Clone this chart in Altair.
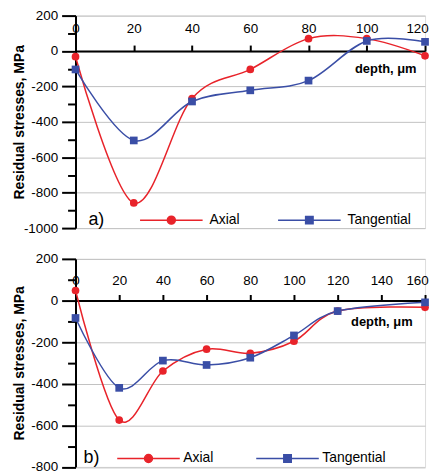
import altair as alt
import pandas as pd

# ---------------- data ----------------
series = ["Axial", "Tangential"]
colors = ["#e8232a", "#3a4ea6"]

depth_a = [0, 20, 40, 60, 80, 100, 120]
axial_a = [-32, -858, -268, -104, 70, 70, -27]
tang_a = [-104, -505, -285, -222, -167, 57, 52]

depth_b = [0, 20, 40, 60, 80, 100, 120, 160]
axial_b = [48, -575, -339, -234, -254, -196, -51, -33]
tang_b = [-84, -420, -289, -310, -275, -168, -51, -9]

x_ticks_a = [0, 20, 40, 60, 80, 100, 120]
x_ticks_b = [0, 20, 40, 60, 80, 100, 120, 140, 160]
y_ticks_a = list(range(-1000, 201, 100))
y_ticks_b = list(range(-800, 201, 100))

FONT = "Liberation Sans"

CIRCLE_SYM = "M-6.3,0L6.3,0M-0.8,0A0.8,0.8,0,1,1,0.8,0A0.8,0.8,0,1,1,-0.8,0Z"
SQUARE_SYM = "M-6.3,0L6.3,0M-0.75,-0.75L0.75,-0.75L0.75,0.75L-0.75,0.75Z"


def long_df(depth, axial, tang):
    rows = []
    for d, v in zip(depth, axial):
        rows.append({"depth": d, "stress": v, "series": series[0]})
    for d, v in zip(depth, tang):
        rows.append({"depth": d, "stress": v, "series": series[1]})
    return pd.DataFrame(rows)


def panel(df, xmax, ymin, xticks, yticks, w, h, tag,
          legx, legy, tpad, loff, cpad, labelpad, ttl_dx, ttl_dy):
    zero_px = h * 200.0 / (200.0 - ymin)
    xscale = alt.Scale(domain=[0, xmax], nice=False, zero=False)
    yscale = alt.Scale(domain=[ymin, 200], nice=False, zero=False)
    xaxis = alt.Axis(
        orient="top", offset=-zero_px, values=xticks, grid=False,
        minExtent=0, maxExtent=0,
        tickSize=6, tickWidth=2, tickColor="black",
        domainColor="black", domainWidth=2,
        labelFontSize=13.5, labelFont=FONT, labelColor="black",
        labelPadding=labelpad, labelAngle=0, labelFlush=False,
        labelOverlap=False,
        labelOffset={"expr": "datum.value === %d ? -8 : 0" % xmax},
        title="depth, \u03bcm", titleFont=FONT, titleFontSize=13,
        titleFontWeight="bold", titleColor="black",
        titleX=w - ttl_dx, titleY=ttl_dy, titleAlign="right",
        titleBaseline="alphabetic", titleAngle=0,
    )
    yaxis = alt.Axis(
        orient="left", values=yticks,
        labelExpr="datum.value % 200 === 0 ? '' + datum.value : ''",
        tickSize={"expr": "datum.value % 200 === 0 ? 14 : 8"},
        tickWidth=2, tickColor="black",
        domainColor="black", domainWidth=2,
        labelFontSize=13.5, labelFont=FONT, labelColor="black",
        labelPadding=4,
        grid=True, gridColor="#c2c2c2", gridWidth=1,
        gridOpacity={"expr": "datum.value % 200 === 0 ? 1 : 0"},
        title="Residual stresses, MPa", titleFont=FONT, titleFontSize=14,
        titleFontWeight="bold", titleColor="black",
        titleX=-56, titleY=h / 2, titleAngle=-90, titleAlign="center",
        titleBaseline="middle",
    )
    legend = alt.Legend(
        orient="none", legendX=legx, legendY=legy, direction="horizontal",
        title=tag, titleOrient="left", titleFontSize=18, titleFont=FONT,
        titleFontWeight="normal", titleColor="black", titlePadding=tpad,
        titleAnchor="middle", titleBaseline="middle",
        labelFontSize=14, labelFont=FONT, labelColor="black",
        labelOffset=loff, columnPadding=cpad,
        symbolSize=100, symbolStrokeWidth=1.5, symbolOpacity=1,
    )
    cscale = alt.Scale(domain=series, range=colors)
    sscale = alt.Scale(domain=series, range=[CIRCLE_SYM, SQUARE_SYM])

    base = alt.Chart(df)
    X = alt.X("depth:Q", scale=xscale, axis=xaxis)
    Y = alt.Y("stress:Q", scale=yscale, axis=yaxis)
    layers = []
    for s, c in zip(series, colors):
        layers.append(
            base.transform_filter(alt.datum.series == s)
            .mark_line(interpolate="cardinal", strokeWidth=1.5, color=c)
            .encode(x=X, y=Y)
        )
    for s, c, shp in zip(series, colors, ["circle", "square"]):
        layers.append(
            base.transform_filter(alt.datum.series == s)
            .mark_point(filled=True, size=60, opacity=1, color=c, shape=shp)
            .encode(x=X, y=Y)
        )
    # legend-only layer (no marks drawn)
    layers.append(
        base.transform_filter("false")
        .mark_point(filled=True)
        .encode(
            x=X, y=Y,
            fill=alt.Fill("series:N", scale=cscale, legend=legend),
            stroke=alt.Stroke("series:N", scale=cscale, legend=legend),
            shape=alt.Shape("series:N", scale=sscale, legend=legend),
        )
    )
    return alt.layer(*layers).properties(width=w, height=h)


pa = panel(long_df(depth_a, axial_a, tang_a), 120, -1000, x_ticks_a, y_ticks_a,
           352, 214, "a)", 13, 199, 59.5, 31.5, 35, 10, 9, 22)
pb = panel(long_df(depth_b, axial_b, tang_b), 160, -800, x_ticks_b, y_ticks_b,
           352, 209.5, "b)", 8, 194, 41.5, 28, 39, 7, 13, 25)

chart = alt.vconcat(pa, pb, spacing=16).resolve_scale(
    fill="independent", stroke="independent", shape="independent"
).resolve_legend(
    fill="independent", stroke="independent", shape="independent"
).properties(
    padding={"left": 4, "top": -2, "right": 0, "bottom": 0}
).configure_view(stroke=None).configure(font=FONT)

chart.save("out.html", embed_options={"renderer": "svg", "actions": False})
